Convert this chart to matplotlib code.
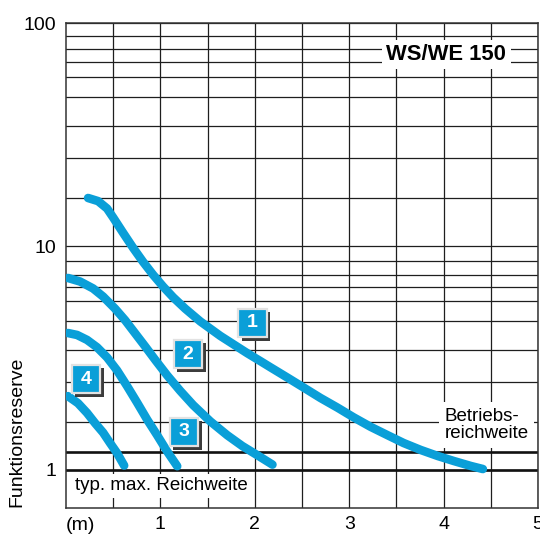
import matplotlib
matplotlib.use("Agg")
import matplotlib.pyplot as plt
import matplotlib.patheffects as pe

plt.rcParams['font.family'] = ['Liberation Sans', 'DejaVu Sans']

# curves: distance (m) vs Funktionsreserve
x1 = [0.234, 0.340, 0.435, 0.499, 0.605, 0.711, 0.817, 0.924, 1.030, 1.136, 1.263,
      1.423, 1.635, 1.921, 2.059, 2.166, 2.346, 2.516, 2.696, 2.877, 3.047, 3.227,
      3.408, 3.577, 3.758, 3.938, 4.108, 4.289, 4.416]
y1 = [16.48, 15.96, 14.79, 13.49, 11.51, 9.86, 8.53, 7.46, 6.61, 5.92, 5.27,
      4.62, 3.98, 3.33, 3.07, 2.88, 2.59, 2.34, 2.10, 1.90, 1.72, 1.56,
      1.43, 1.32, 1.229, 1.155, 1.097, 1.042, 1.010]

x2 = [0.021, 0.149, 0.287, 0.393, 0.520, 0.626, 0.730, 0.839, 0.950, 1.072, 1.210,
      1.348, 1.529, 1.709, 1.868, 2.028, 2.187]
y2 = [7.23, 6.97, 6.49, 5.97, 5.27, 4.68, 4.10, 3.57, 3.09, 2.65, 2.26,
      1.95, 1.65, 1.43, 1.28, 1.164, 1.057]

x3 = [0.021, 0.117, 0.223, 0.329, 0.435, 0.541, 0.648, 0.754, 0.860, 0.966, 1.072,
      1.178]
y3 = [4.10, 4.02, 3.82, 3.54, 3.19, 2.79, 2.37, 2.00, 1.68, 1.43, 1.21, 1.04]

x4 = [0.021, 0.127, 0.223, 0.308, 0.393, 0.467, 0.541, 0.616]
y4 = [2.14, 1.99, 1.80, 1.62, 1.47, 1.32, 1.19, 1.047]

curves = [(x1, y1), (x2, y2), (x3, y3), (x4, y4)]

# numbered tags
tag_text = ["1", "2", "3", "4"]
tag_x = [1.975, 1.295, 1.25, 0.212]
tag_y = [4.55, 3.30, 1.48, 2.55]

# grid lines (as drawn on the sheet)
y_minor = [1.64, 2.48, 3.44, 4.64, 5.70, 6.59, 7.46, 8.61,
           16.5, 24.9, 34.6, 46.7, 57.3, 66.9, 76.5, 87.5]
y_thick = [1.0, 1.2]
x_major = [1, 2, 3, 4, 5]
x_minor = [0.5, 1.5, 2.5, 3.5, 4.5]

blue = '#0a9fd8'
gridc = '#1e1e1e'

fig = plt.figure(figsize=(5.4, 5.35), dpi=100)
ax = fig.add_axes([66 / 540, 1 - 508 / 535, 472 / 540, 485 / 535])
ax.set_yscale('log')
ax.set_xlim(0, 5)
ax.set_ylim(0.676, 100)

ax.set_yticks([1, 10, 100])
ax.set_yticklabels(['1', '10', '100'])
ax.set_yticks(y_minor, minor=True)
ax.set_xticks(x_major)
ax.set_xticklabels([str(v) for v in x_major])
ax.set_xticks(x_minor, minor=True)
ax.yaxis.set_minor_formatter(matplotlib.ticker.NullFormatter())
ax.tick_params(which='both', length=0, labelsize=14)
ax.tick_params(axis='y', pad=7)
ax.tick_params(axis='x', pad=6)
ax.grid(True, which='both', color=gridc, lw=0.9)
ax.set_axisbelow(True)
for s in ax.spines.values():
    s.set_color('#333333')
    s.set_linewidth(1.1)

for yv in y_thick:
    ax.axhline(yv, color='#111111', lw=1.9, zorder=1.5)

for xs, ys in curves:
    ax.plot(xs, ys, color=blue, lw=6.2, solid_capstyle='round',
            solid_joinstyle='round', zorder=3)

shadow = [pe.SimplePatchShadow(offset=(2.5, -2.5), shadow_rgbFace='#3c3c3c', alpha=1.0),
          pe.Normal()]
for tx, ty, t in zip(tag_x, tag_y, tag_text):
    ax.plot(tx, ty, marker='s', ms=20.5, mfc=blue, mec='#e2e2e2', mew=1.6,
            zorder=5, path_effects=shadow)
    ax.text(tx, ty, t, color='white', fontsize=14, fontweight='bold',
            ha='center', va='center', zorder=6)

box = dict(boxstyle='square,pad=0.2', fc='white', ec='none')
ax.text(4.03, 72.3, 'WS/WE 150', fontsize=15.8, fontweight='bold',
        ha='center', va='center', bbox=box, zorder=4)
ax.text(4.01, 1.59, 'Betriebs-\nreichweite', fontsize=13.5, ha='left', va='center',
        linespacing=1.0, bbox=dict(boxstyle='square,pad=0.3', fc='white', ec='none'),
        zorder=4)
ax.text(0.1, 0.848, 'typ. max. Reichweite', fontsize=13.5, ha='left', va='center',
        bbox=box, zorder=4)

ax.text(0.0, -0.037, '(m)', transform=ax.get_xaxis_transform(), fontsize=14,
        ha='left', va='center')
fig.text(17 / 540, 1 - 432 / 535, 'Funktionsreserve', rotation=90, fontsize=14,
         ha='center', va='center')

fig.savefig('out.png', dpi=100)
